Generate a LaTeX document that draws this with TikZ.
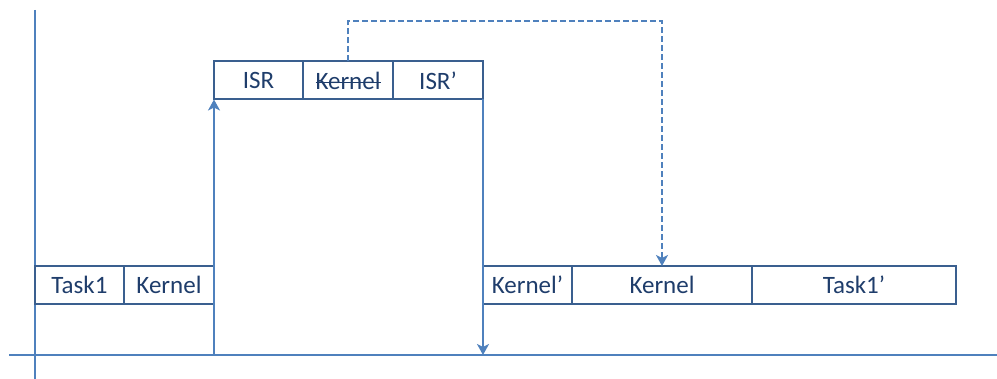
\documentclass[tikz,border=0pt]{standalone}
\usepackage{fontspec}
\setmainfont{Carlito}
\usetikzlibrary{arrows.meta}
\definecolor{boxblue}{HTML}{3A5F8F}
\definecolor{lineblue}{HTML}{4F81BD}
\definecolor{textblue}{HTML}{1F3D6B}
\newcommand{\struck}[1]{\setbox0\hbox{#1}\rlap{\rule[0.5ex]{\wd0}{0.8pt}}\box0}

\begin{document}
\begin{tikzpicture}[x=0.5pt, y=-0.5pt,
  every node/.style={font=\fontsize{12.5}{14}\selectfont, text=textblue},
  slot/.style={draw=boxblue, line width=1pt, minimum height=19pt, inner sep=0pt, outer sep=0pt, anchor=west},
  axis/.style={draw=lineblue, line width=1pt},
  flow/.style={draw=lineblue, line width=1pt, -{Stealth[length=5.5pt,width=6pt,inset=1.5pt]}}]
	\useasboundingbox (0,0) rectangle (997,379);
	
	% axes
	\coordinate (ytop) at (35,10);
	\coordinate (ybot) at (35,379);
	\coordinate (xl) at (9,355);
	\coordinate (xr) at (997,355);
	\draw[axis] (ytop) -- (ybot);
	\draw[axis] (xl) -- (xr);
	
	% task level, before the interrupt
	\node[slot, minimum width=44.5pt] (task) at (35,285) {Task1};
	\node[slot, minimum width=45pt] (kern) at (task.east) {Kernel};
	
	% interrupt level
	\node[slot, minimum width=44.5pt] (isr) at (214,80.5) {ISR};
	\node[slot, minimum width=45pt] (kisr) at (isr.east) {\struck{Kernel}};
	\node[slot, minimum width=45pt] (isrb) at (kisr.east) {ISR’};
	
	% task level, after the interrupt
	\node[slot, minimum width=44.5pt] (kernb) at (483,285) {Kernel’};
	\node[slot, minimum width=90pt] (kernc) at (kernb.east) {Kernel};
	\node[slot, minimum width=102pt] (taskb) at (kernc.east) {Task1’};
	
	\draw[flow] (kern.east |- xl) -- (isr.south west);
	\draw[flow] (isrb.south east) -- (isrb.south east |- xl);
	\draw[flow, dash pattern=on 3pt off 1.5pt] (kisr.north) -- ++(0,-40) -| (kernc.north);
\end{tikzpicture}
\end{document}
